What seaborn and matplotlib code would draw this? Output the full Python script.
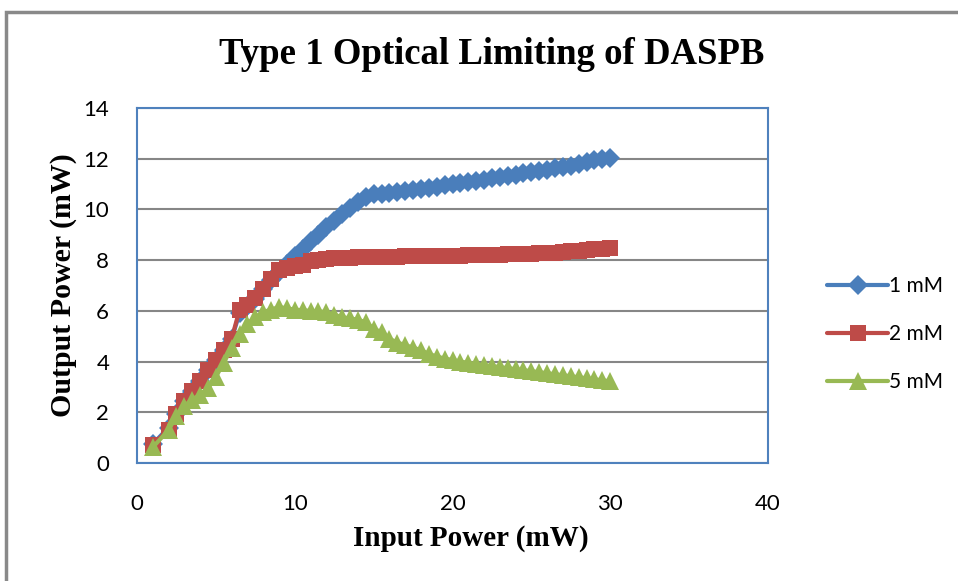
import matplotlib
matplotlib.use("Agg")
import matplotlib.pyplot as plt
import seaborn as sns
import pandas as pd
from matplotlib.patches import Rectangle

# ---- data ----
input_power = [1, 2, 2.5, 3, 3.5, 4, 4.5, 5, 5.5, 6, 6.5, 7, 7.5, 8, 8.5, 9, 9.5, 10,
               10.5, 11, 11.5, 12, 12.5, 13, 13.5, 14, 14.5, 15,
               15.5, 16, 16.5, 17, 17.5, 18, 18.5, 19, 19.5, 20,
               20.5, 21, 21.5, 22, 22.5, 23, 23.5, 24, 24.5, 25,
               25.5, 26, 26.5, 27, 27.5, 28, 28.5, 29, 29.5, 30]

out_1mM = [0.75, 1.4, 1.95, 2.45, 2.85, 3.25, 3.65, 4.05, 4.45, 4.9, 5.9, 6.2, 6.45, 6.85,
           7.2, 7.55, 7.85, 8.15, 8.45, 8.75, 9.0, 9.3, 9.55, 9.8, 10.05, 10.3, 10.5, 10.6,
           10.62, 10.66, 10.7, 10.74, 10.78, 10.82, 10.86, 10.9, 10.95, 11.0,
           11.03, 11.07, 11.12, 11.17, 11.22, 11.27, 11.32, 11.37, 11.42, 11.47,
           11.52, 11.57, 11.62, 11.67, 11.73, 11.8, 11.87, 11.93, 11.98, 12.03]

out_2mM = [0.72, 1.32, 1.95, 2.45, 2.85, 3.25, 3.65, 4.05, 4.45, 4.9, 6.05, 6.25, 6.5, 6.85,
           7.25, 7.6, 7.7, 7.75, 7.8, 7.95, 8.0, 8.05, 8.08, 8.1, 8.1, 8.12, 8.12, 8.13,
           8.13, 8.14, 8.14, 8.15, 8.15, 8.16, 8.16, 8.17, 8.17, 8.18,
           8.18, 8.19, 8.2, 8.2, 8.21, 8.22, 8.23, 8.24, 8.25, 8.26,
           8.27, 8.28, 8.3, 8.32, 8.35, 8.38, 8.4, 8.43, 8.45, 8.47]

out_5mM = [0.62, 1.3, 1.85, 2.25, 2.5, 2.7, 2.95, 3.4, 3.95, 4.55, 5.1, 5.5, 5.75, 5.95,
           6.05, 6.15, 6.1, 6.05, 6.02, 6.0, 5.98, 5.95, 5.85, 5.75, 5.7, 5.65, 5.55, 5.3,
           5.15, 4.9, 4.75, 4.65, 4.55, 4.45, 4.3, 4.2, 4.12, 4.06,
           4.0, 3.95, 3.9, 3.86, 3.82, 3.78, 3.74, 3.7, 3.66, 3.62,
           3.58, 3.54, 3.5, 3.46, 3.42, 3.38, 3.34, 3.3, 3.26, 3.22]

series_names = ["1 mM", "2 mM", "5 mM"]
x_ticks = [0, 10, 20, 30, 40]
y_ticks = [0, 2, 4, 6, 8, 10, 12, 14]

title = "Type 1 Optical Limiting of DASPB"
x_label = "Input Power (mW)"
y_label = "Output Power (mW)"

# ---- build long table ----
frames = []
for name, vals in zip(series_names, [out_1mM, out_2mM, out_5mM]):
    frames.append(pd.DataFrame({"x": input_power, "y": vals, "series": name}))
df = pd.concat(frames, ignore_index=True)

sns.set_style("white")
plt.rcParams["font.family"] = ["Lato", "DejaVu Sans"]
plt.rcParams["text.color"] = "black"

fig = plt.figure(figsize=(9.58, 5.81), dpi=100)
ax = fig.add_axes([137/958, 1-463/581, (768-137)/958, (463-108)/581])

colors = {"1 mM": "#4A7EBB", "2 mM": "#BE4B48", "5 mM": "#98B954"}
markers = {"1 mM": "D", "2 mM": "s", "5 mM": "^"}
sizes = {"1 mM": 10.5, "2 mM": 11, "5 mM": 13}

for name in series_names:
    sub = df[df["series"] == name]
    sns.lineplot(data=sub, x="x", y="y", ax=ax, color=colors[name],
                 marker=markers[name], markersize=sizes[name],
                 markeredgewidth=0, linewidth=3, label=name,
                 estimator=None, sort=False)

ax.set_xlim(0, 40)
ax.set_ylim(0, 14)
ax.set_xticks(x_ticks)
ax.set_yticks(y_ticks)
ax.tick_params(axis="both", length=0, labelsize=16, colors="black")
ax.tick_params(axis="y", pad=20)
ax.tick_params(axis="x", pad=22)
ax.yaxis.grid(True, color="#868686", linewidth=1.5)
ax.xaxis.grid(False)
ax.set_axisbelow(True)
for sp in ax.spines.values():
    sp.set_color("#4F81BD")
    sp.set_linewidth(1.5)

ax.set_xlabel(x_label, family="Liberation Serif", fontweight="bold", fontsize=21,
              labelpad=8, color="black", x=0.529)
ax.set_ylabel(y_label, family="Liberation Serif", fontweight="bold", fontsize=21.5,
              labelpad=5, color="black")
fig.text(492/958, 1-55/581, title, family="Liberation Serif", fontweight="bold",
         fontsize=26.5, ha="center", va="center", color="black")

ax.legend(loc="center left", bbox_to_anchor=(817/958, 1-334/581),
          bbox_transform=fig.transFigure, frameon=False, fontsize=15,
          handlelength=2.9, handletextpad=0.05, labelspacing=1.35, borderpad=0)

# outer chart frame
fig.patches.append(Rectangle((6/958, -0.2), 1.2, 1.2 - 12/581, transform=fig.transFigure,
                             fill=False, edgecolor="#898989", linewidth=2.5))

fig.savefig("out.png", dpi=100)
